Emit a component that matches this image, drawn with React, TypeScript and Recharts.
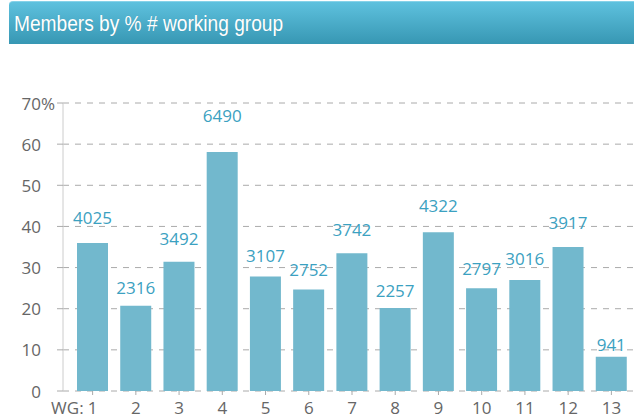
import { BarChart, Bar, XAxis, YAxis, CartesianGrid, LabelList } from "recharts";

const groups = ["1", "2", "3", "4", "5", "6", "7", "8", "9", "10", "11", "12", "13"];
const percent = [36.0, 20.7, 31.4, 58.1, 27.8, 24.7, 33.5, 20.2, 38.6, 25.0, 27.0, 35.0, 8.3];
const members = [4025, 2316, 3492, 6490, 3107, 2752, 3742, 2257, 4322, 2797, 3016, 3917, 941];
const yTicks = [0, 10, 20, 30, 40, 50, 60, 70];

const data = groups.map((g, i) => ({ wg: g, pct: percent[i], members: members[i] }));

const TICK_FONT = "'Open Sans', 'Liberation Sans', sans-serif";
const BAR_COLOR = "#72b8cd";
const LABEL_COLOR = "#3ba1c1";

function YTick(props: any) {
  const { y, payload } = props;
  return (
    <g>
      <text x={41} y={y} textAnchor="end" dominantBaseline="central" fill="#666" fontSize={17} fontFamily={TICK_FONT}>
        {payload.value}
      </text>
      {payload.value === 70 && (
        <text x={41} y={y} textAnchor="start" dominantBaseline="central" fill="#666" fontSize={17} fontFamily={TICK_FONT}>
          %
        </text>
      )}
    </g>
  );
}

function XTick(props: any) {
  const { x, payload, index } = props;
  return (
    <g>
      <text x={x} y={414} textAnchor="middle" fill="#666" fontSize={17} fontFamily={TICK_FONT}>
        {payload.value}
      </text>
      {index === 0 && (
        <text x={x - 9} y={414} textAnchor="end" fill="#666" fontSize={17} fontFamily={TICK_FONT}>
          WG:
        </text>
      )}
    </g>
  );
}

function ValueLabel(props: any) {
  const { x, y, width, height, value } = props;
  // labels sit higher above taller bars
  const cy = y - (8 + 0.117 * height);
  return (
    <text x={x + width / 2} y={cy} textAnchor="middle" dominantBaseline="central" fill={LABEL_COLOR} fontSize={17} fontFamily={TICK_FONT}>
      {value}
    </text>
  );
}

export default function App() {
  return (
    <div style={{ position: "absolute", left: 0, top: 0, width: 634, height: 418, background: "#fff", overflow: "hidden" }}>
      <div
        style={{
          position: "absolute",
          left: 9,
          top: 1,
          width: 625,
          height: 43,
          boxSizing: "border-box",
          background: "linear-gradient(#5ec1de, #3797b3)",
          borderTop: "1px solid #86d2e8",
          borderTopLeftRadius: 4,
          color: "#fff",
          fontFamily: "'Liberation Sans', Arial, sans-serif",
          fontSize: 22,
          lineHeight: "40px",
          paddingTop: 2,
          paddingLeft: 5,
          whiteSpace: "nowrap",
        }}
      >
        <span style={{ display: "inline-block", transform: "scaleX(0.87)", transformOrigin: "left center", textShadow: "0 0 1px rgba(0,0,0,0.15)" }}>
          Members by % # working group
        </span>
      </div>
      <div style={{ position: "absolute", left: 0, top: 0 }}>
        <BarChart width={634} height={418} data={data} margin={{ top: 103, right: 1, bottom: 0, left: 0 }}>
          <CartesianGrid vertical={false} stroke="#aaa" strokeDasharray="6 6" />
          <YAxis
            width={63}
            domain={[0, 70]}
            ticks={yTicks}
            interval={0}
            axisLine={{ stroke: "#ccc" }}
            tickLine={{ stroke: "#aaa" }}
            tickSize={6}
            tick={<YTick />}
          />
          <XAxis
            dataKey="wg"
            height={27}
            padding={{ left: 8, right: 0 }}
            axisLine={false}
            tickLine={{ stroke: "#aaa" }}
            tickSize={4}
            interval={0}
            tick={<XTick />}
          />
          <Bar dataKey="pct" fill={BAR_COLOR} barSize={31} isAnimationActive={false}>
            <LabelList dataKey="members" content={<ValueLabel />} />
          </Bar>
        </BarChart>
      </div>
    </div>
  );
}
